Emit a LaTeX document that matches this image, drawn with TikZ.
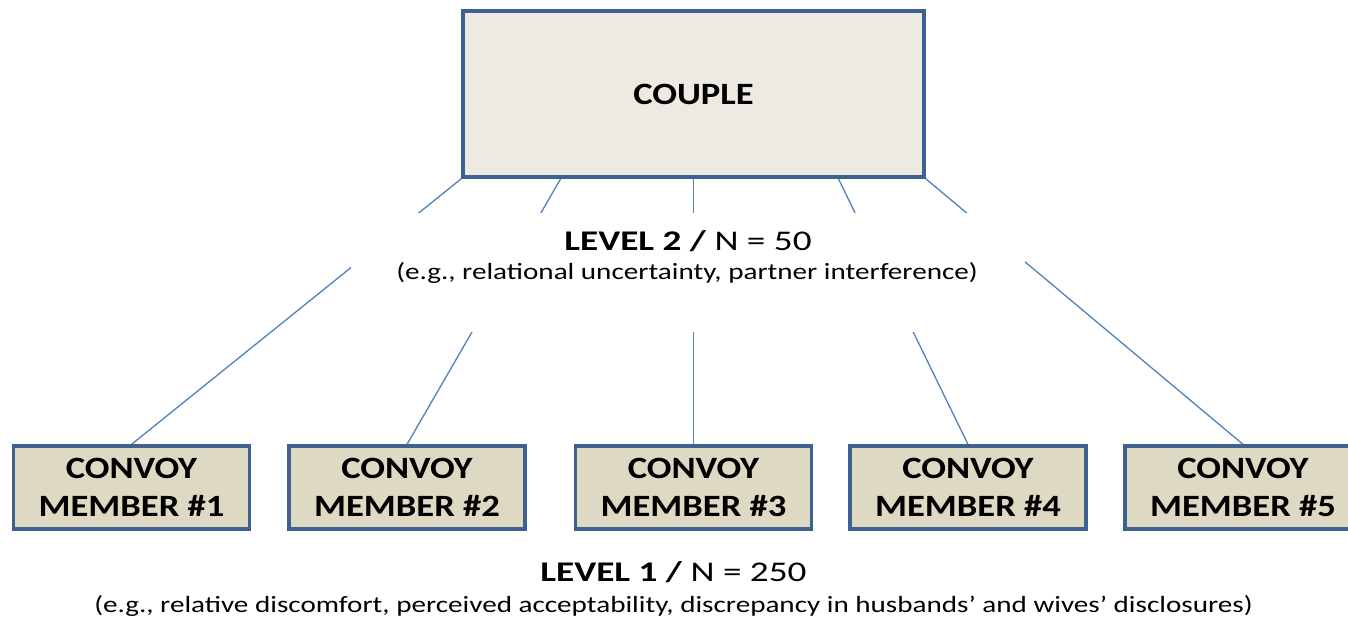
\documentclass[tikz,border=0pt]{standalone}
\usepackage{fontspec}
\setmainfont{Carlito}[FakeStretch=1.18]
\newfontfamily\headfont{Carlito}[FakeStretch=1.305]
\newfontfamily\subfont{Carlito}[FakeStretch=1.25]
\usetikzlibrary{calc}
\definecolor{bordercol}{HTML}{3E6192}
\definecolor{couplefill}{HTML}{EDEBE1}
\definecolor{convoyfill}{HTML}{DDD9C3}
\definecolor{linkcol}{HTML}{4F81BD}
\tikzset{
  couplebox/.style={draw=bordercol, line width=3.3pt, fill=couplefill, minimum width=461pt, minimum height=166pt, inner sep=0pt, font=\fontsize{31}{37}\selectfont\bfseries},
  convoybox/.style={draw=bordercol, line width=3.3pt, fill=convoyfill, minimum width=236pt, minimum height=83pt, inner sep=0pt, align=center, font=\fontsize{31}{38.5}\selectfont\bfseries},
  link/.style={draw=linkcol, line width=1.3pt},
  levelhead/.style={anchor=base, inner sep=0pt, font=\headfont\fontsize{28.5}{34}\selectfont},
  levelsub/.style={anchor=base, inner sep=0pt, font=\subfont\fontsize{23.3}{27}\selectfont},
  coverbox/.style={fill=white, draw=none, minimum width=674pt, minimum height=119pt, inner sep=0pt}
}
\begin{document}
\begin{tikzpicture}[x=1pt,y=-1pt]
\useasboundingbox (0,0) rectangle (1348,618);
\clip (0,0) rectangle (1348,618);
\node[couplebox] (couple) at (693.5,94) {COUPLE};
\node[convoybox] (m1) at (131.5,487.5) {CONVOY\\MEMBER \#1};
\node[convoybox] (m2) at (407,487.5) {CONVOY\\MEMBER \#2};
\node[convoybox] (m3) at (693.5,487.5) {CONVOY\\MEMBER \#3};
\node[convoybox] (m4) at (968,487.5) {CONVOY\\MEMBER \#4};
\node[convoybox] (m5) at (1243,487.5) {CONVOY\\MEMBER \#5};
\coordinate (s1) at (couple.south west);
\coordinate (s2) at ($(couple.south west)!0.214!(couple.south east)$);
\coordinate (s3) at (couple.south);
\coordinate (s4) at ($(couple.south west)!0.812!(couple.south east)$);
\coordinate (s5) at (couple.south east);
\draw[link] (s1) -- (m1.north);
\draw[link] (s2) -- (m2.north);
\draw[link] (s3) -- (m3.north);
\draw[link] (s4) -- (m4.north);
\draw[link] (s5) -- (m5.north);
\node[coverbox] (cover) at (688,272.5) {};
\node[levelhead] (l2head) at (688,250) {\textbf{LEVEL 2 /} N = 50};
\node[levelsub] (l2sub) at (687,279) {(e.g., relational uncertainty, partner interference)};
\node[levelhead] (l1head) at (673.5,581) {\textbf{LEVEL 1 /} N = 250};
\node[levelsub] (l1sub) at (673.5,612) {(e.g., relative discomfort, perceived acceptability, discrepancy in husbands’ and wives’ disclosures)};
% redraw boxes on top of links
\node[couplebox] at (couple) {COUPLE};
\foreach \n/\t in {m1/1,m2/2,m3/3,m4/4,m5/5}{
  \node[convoybox] at (\n) {CONVOY\\MEMBER \#\t};
}
\end{tikzpicture}
\end{document}
